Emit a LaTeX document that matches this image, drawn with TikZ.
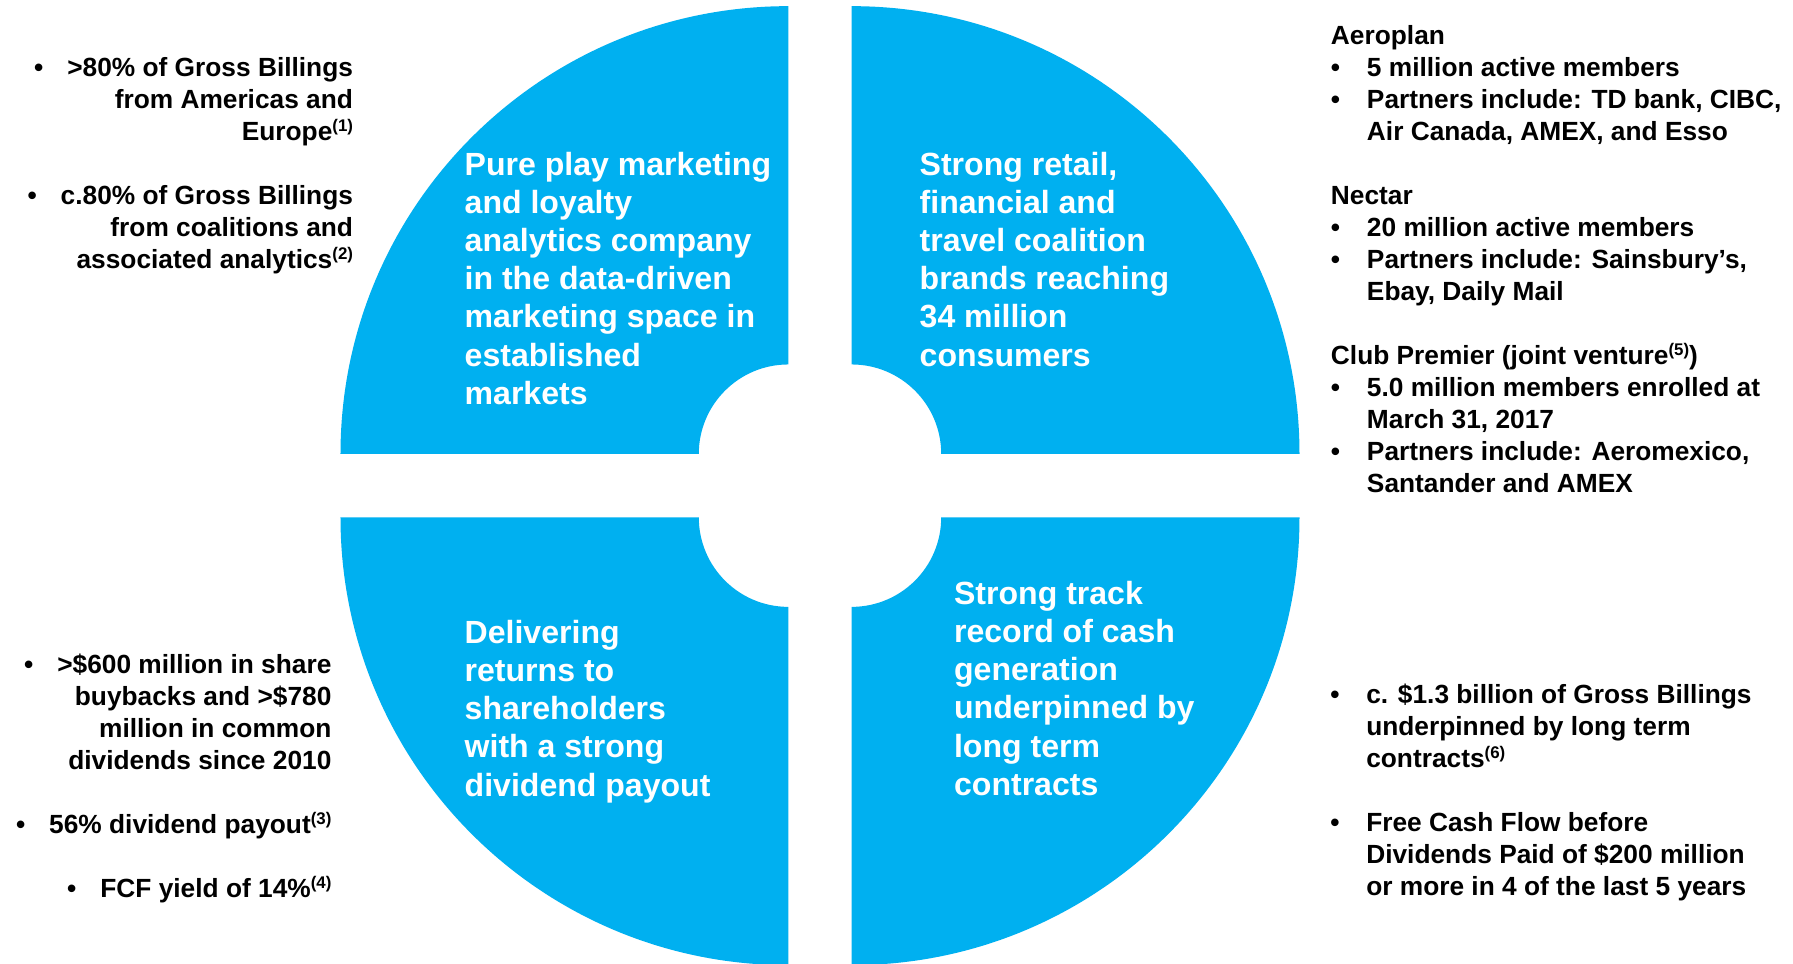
\documentclass[tikz,border=0pt]{standalone}
\usepackage{fontspec}
\setmainfont{Liberation Sans}
\usetikzlibrary{math}

\definecolor{quarterBlue}{RGB}{0,176,240}
\newcommand{\fnote}[1]{\raisebox{0.34em}{\fontsize{12}{12}\selectfont(#1)}}
\newcommand{\itm}{\makebox[0.9cm][l]{\textbullet}}
\newcommand{\indnt}{\hspace*{0.9cm}}
\newcommand{\lbul}{\llap{\textbullet\hspace{0.6cm}}}
\newcommand{\topline}{\rule{0pt}{1em}}

\begin{document}
\begin{tikzpicture}[x=0.025cm, y=0.025cm]
	\tikzmath{
		\gap  = 31.7;  %half width of the white cross
		\rIn  = 89.5;  %inner radius of one quarter
		\rOut = 447.8; %outer radius of one quarter
	}
	\tikzstyle{Quarter} = [fill=quarterBlue]
	\tikzstyle{QuarterText} = [
		font=\fontsize{22.8}{27.17}\selectfont\bfseries,
		text=white,
		align=left,
		anchor=north west,
		inner sep=0pt
	]
	\tikzstyle{SideText} = [
		font=\fontsize{18.7}{22.76}\selectfont\bfseries,
		inner sep=0pt
	]

	\path[use as bounding box, fill=white] (-820,485.65) rectangle (973,-477.35);

	%%%%%%%%%%%%%%%%%%%%%%%%%%===---QUARTERS---===%%%%%%%%%%%%%%%%%%%%%%%%%%
	\foreach \ang/\sx/\sy in {0/1/1, 90/-1/1, 180/-1/-1, 270/1/-1} {
		\fill[Quarter, shift={(\sx*\gap,\sy*\gap)}]
			(\ang:\rIn) -- (\ang:\rOut)
			arc[start angle=\ang, delta angle=90, radius=\rOut]
			-- (\ang+90:\rIn)
			arc[start angle=\ang+90, delta angle=-90, radius=\rIn] -- cycle;
	}

	%%%%%%%%%%%%%%%%%%%%%%%%%%===---QUARTER TEXT---===%%%%%%%%%%%%%%%%%%%%%%%%%%
	\node (marketing) [QuarterText] at (-355.6,342.9) {\topline Pure play marketing\\
		and loyalty\\ analytics company\\ in the data-driven\\
		marketing space in\\ established\\ markets};
	\node (coalition) [QuarterText] at (99.4,342.9)   {\topline Strong retail,\\
		financial and\\ travel coalition\\ brands reaching\\ 34 million\\ consumers};
	\node (returns)   [QuarterText] at (-355.6,-125.2) {\topline Delivering\\
		returns to\\ shareholders\\ with a strong\\ dividend payout};
	\node (cashflow)  [QuarterText] at (133.8,-86.2)  {\topline Strong track\\
		record of cash\\ generation\\ underpinned by\\ long term\\ contracts};

	%%%%%%%%%%%%%%%%%%%%%%%%%%===---SIDE NOTES---===%%%%%%%%%%%%%%%%%%%%%%%%%%
	\node (billings) [SideText, align=right, anchor=north east] at (-466.7,436) {\topline
		\lbul>80\% of Gross Billings\\ from Americas and\\ Europe\fnote{1}\\[0.8cm]
		\lbul c.80\% of Gross Billings\\ from coalitions and\\ associated analytics\fnote{2}};
	\node (payout) [SideText, align=right, anchor=north east] at (-488.3,-161) {\topline
		\lbul>\$600 million in share\\ buybacks and >\$780\\ million in common\\
		dividends since 2010\\[0.8cm]
		\lbul 56\% dividend payout\fnote{3}\\[0.8cm]
		\lbul FCF yield of 14\%\fnote{4}};
	\node (programs) [SideText, align=left, anchor=north west] at (510.7,467.75) {\topline
		Aeroplan\\
		\itm 5 million active members\\
		\itm Partners include: TD bank, CIBC,\\
		\indnt Air Canada, AMEX, and Esso\\[0.8cm]
		Nectar\\
		\itm 20 million active members\\
		\itm Partners include: Sainsbury’s,\\
		\indnt Ebay, Daily Mail\\[0.8cm]
		Club Premier (joint venture\fnote{5})\\
		\itm 5.0 million members enrolled at\\
		\indnt March 31, 2017\\
		\itm Partners include: Aeromexico,\\
		\indnt Santander and AMEX};
	\node (contracts) [SideText, align=left, anchor=north west] at (510,-191.3) {\topline
		\itm c. \$1.3 billion of Gross Billings\\
		\indnt underpinned by long term\\
		\indnt contracts\fnote{6}\\[0.8cm]
		\itm Free Cash Flow before\\
		\indnt Dividends Paid of \$200 million\\
		\indnt or more in 4 of the last 5 years};
\end{tikzpicture}
\end{document}
